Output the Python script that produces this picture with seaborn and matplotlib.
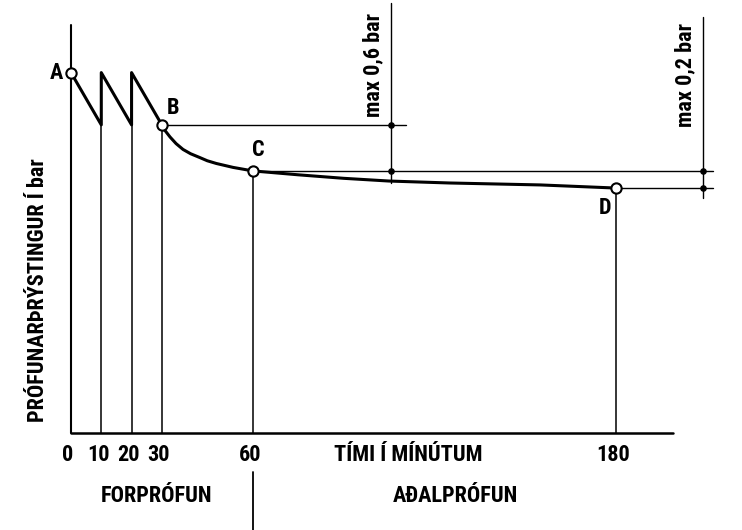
import matplotlib
matplotlib.use("Agg")
import matplotlib.pyplot as plt
from matplotlib import font_manager
import seaborn as sns
import pandas as pd

# pressure test curve (time in minutes, pressure in bar, schematic)
time_min = [0, 10, 10, 20, 20, 30, 31, 32.7, 34.7, 37, 39.5, 42.6, 45, 48, 53.5, 60,
            75, 90, 105, 125, 155, 180]
pressure = [4.62, 3.95, 4.62, 3.95, 4.62, 3.95, 3.88, 3.795, 3.71, 3.635, 3.58, 3.53,
            3.49, 3.455, 3.405, 3.36, 3.31, 3.265, 3.23, 3.205, 3.18, 3.14]

# named points
point_names = ["A", "B", "C", "D"]
point_time = [0, 30, 60, 180]
point_pressure = [4.62, 3.95, 3.36, 3.14]

# x tick labels
tick_values = [0, 10, 20, 30, 60, 180]
tick_labels = ["0", "10", "20", "30", "60", "180"]

# allowed drops
drop_labels = ["max 0,6 bar", "max 0,2 bar"]
dim_x = [105.6, 208.6]

sns.set_theme(style="white")
names = {f.name for f in font_manager.fontManager.ttflist}
narrow = [n for n in ["Liberation Sans Narrow", "Roboto Condensed", "Open Sans Condensed"] if n in names]
plt.rcParams["font.family"] = narrow + ["DejaVu Sans"]
plt.rcParams["font.stretch"] = "condensed"
plt.rcParams["text.color"] = "black"

fs = 14 if not narrow else 16
txt = dict(fontsize=fs, fontweight="bold", fontstretch="condensed", color="black")

fig = plt.figure(figsize=(7.42, 5.30), dpi=100)
ax = fig.add_axes([0, 0, 1, 1])
ax.set_xlim(-23.45, 221.6)
ax.set_ylim(-1.244, 5.551)
ax.axis("off")

lc = "black"

# axes lines
ax.plot([0, 0], [0, 5.23], color=lc, lw=1.5)
ax.plot([0, 198.8], [0, 0], color=lc, lw=1.8)

# drop lines from the curve to the time axis
ax.plot([10, 10], [0, pressure[2]], color=lc, lw=1.1)
ax.plot([20, 20], [0, pressure[4]], color=lc, lw=1.1)
for t, p in zip(point_time[1:], point_pressure[1:]):
    ax.plot([t, t], [0, p], color=lc, lw=1.1)

# reference levels
ax.plot([point_time[1], 110.5], [point_pressure[1]] * 2, color=lc, lw=1.0)
ax.plot([point_time[2], 212], [point_pressure[2]] * 2, color=lc, lw=1.0)
ax.plot([point_time[3], 212], [point_pressure[3]] * 2, color=lc, lw=1.0)

# dimension lines
ax.plot([dim_x[0]] * 2, [3.20, 5.51], color=lc, lw=1.0)
ax.plot([dim_x[1]] * 2, [3.01, 5.33], color=lc, lw=1.0)
ax.scatter([dim_x[0], dim_x[0], dim_x[1], dim_x[1]],
           [point_pressure[1], point_pressure[2], point_pressure[2], point_pressure[3]],
           s=14, color=lc, zorder=5)

# pressure curve
df = pd.DataFrame({"time": time_min, "pressure": pressure})
sns.lineplot(data=df, x="time", y="pressure", sort=False, estimator=None,
             color=lc, lw=2.2, ax=ax)

# named points
sns.scatterplot(x=point_time, y=point_pressure, s=55, marker="o",
                facecolor="white", edgecolor=lc, linewidth=1.5, zorder=6, ax=ax)
label_pos = [(-2.5, 4.62, "right"), (33.7, 4.17, "center"), (61.8, 3.63, "center"),
             (176.4, 2.88, "center")]
for name, (lx, ly, ha) in zip(point_names, label_pos):
    ax.text(lx, ly, name, ha=ha, va="center", **txt)

# tick labels
for v, s in zip(tick_values, tick_labels):
    ax.text(v - 1, -0.282, s, ha="center", va="center", **txt)

ax.text(111.3, -0.282, "TÍMI Í MÍNÚTUM", ha="center", va="center", **txt)
ax.text(-10.9, 1.83, "PRÓFUNARÞRÝSTINGUR Í bar", ha="center", va="center",
        rotation=90, **txt)

# drop limits
ax.text(99.7, 4.72, drop_labels[0], ha="center", va="center", rotation=90, **txt)
ax.text(202.8, 4.59, drop_labels[1], ha="center", va="center", rotation=90, **txt)

# test phases
ax.plot([60, 60], [-0.5, -1.244], color=lc, lw=1.3)
ax.text(28.4, -0.81, "FORPRÓFUN", ha="center", va="center", **txt)
ax.text(126.8, -0.81, "AÐALPRÓFUN", ha="center", va="center", **txt)

fig.savefig("out.png", dpi=100)
